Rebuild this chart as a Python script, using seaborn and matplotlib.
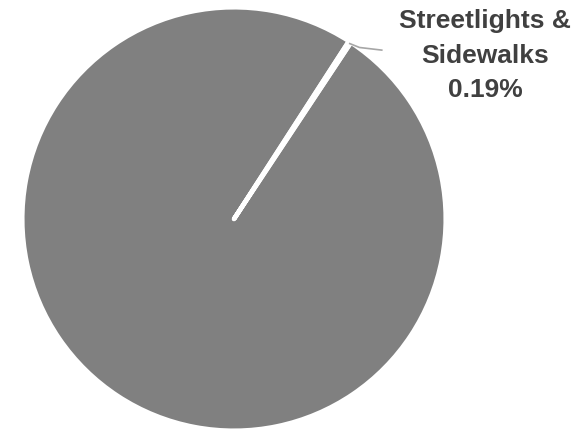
import numpy as np
import matplotlib
matplotlib.use("Agg")
import matplotlib.pyplot as plt
import seaborn as sns

# Share of spending by category (percent)
categories = ["Other Projects", "Streetlights & Sidewalks"]
shares = [99.81, 0.19]
shown_labels = ["", "Streetlights &\nSidewalks\n0.19%"]

sns.set_theme(style="white")
plt.rcParams["font.family"] = ["Liberation Sans", "DejaVu Sans"]

W, H = 585, 429
fig = plt.figure(figsize=(W / 100, H / 100), dpi=100)
cx, cy, r = 234, 219, 210
ax = fig.add_axes([(cx - r) / W, (H - cy - r) / H, 2 * r / W, 2 * r / H])

pie_color = sns.color_palette(["#808080"])[0]
slice_mid_deg = 56.8
start = slice_mid_deg - 360 * shares[1] / 100 / 2 - 360 * shares[0] / 100

wedges, _ = ax.pie(
    shares,
    colors=[pie_color, pie_color],
    startangle=start,
    counterclock=True,
    radius=1.008,
    wedgeprops=dict(edgecolor="white", linewidth=3.2, joinstyle="round", capstyle="round"),
)
for w in wedges:
    w.set_clip_on(False)
ax.set_xlim(-1, 1)
ax.set_ylim(-1, 1)
ax.set_aspect("equal")
ax.axis("off")

# Leader line and label for the small slice
w = wedges[1]
mid = np.deg2rad((w.theta1 + w.theta2) / 2)
x0, y0 = np.cos(mid) * 1.0, np.sin(mid) * 1.0
ax.plot([x0, x0 + 0.05, x0 + 0.16], [y0, y0 - 0.02, y0 - 0.033],
        color="#a6a6a6", lw=1.2, clip_on=False, solid_capstyle="butt")
ax.text(1.195, 0.778, shown_labels[1], ha="center", va="center",
        fontsize=19, fontweight="bold", color="#404040",
        linespacing=1.55, clip_on=False)

fig.savefig("out.png", dpi=100)
